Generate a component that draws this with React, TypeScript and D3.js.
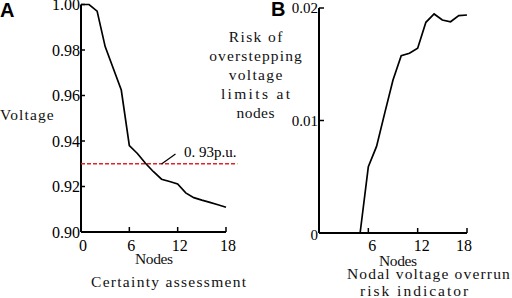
import React from "react";
import * as d3 from "d3";

const nodesA = [0, 1, 2, 3, 4, 5, 6, 7, 8, 9, 10, 11, 12, 13, 14, 15, 16, 17, 18];
const voltage = [1.0, 1.0, 0.9971, 0.9815, 0.972, 0.9624, 0.938, 0.9345, 0.9302, 0.9265, 0.9232, 0.9222, 0.9211, 0.9172, 0.9151, 0.914, 0.913, 0.912, 0.9109];
const nodesB = [5, 6, 7, 8, 9, 10, 11, 12, 13, 14, 15, 16, 17, 18];
const risk = [0, 0.0059, 0.0077, 0.01068, 0.0136, 0.01576, 0.01597, 0.01642, 0.01873, 0.01947, 0.01893, 0.01878, 0.01932, 0.01938];
const yTicksA = [0.9, 0.92, 0.94, 0.96, 0.98, 1.0];
const xTicksA = [0, 6, 12, 18];
const yTicksB = [0.01, 0.02];
const xTicksB = [6, 12, 18];
const threshold = 0.93;
const riskLabel = ["Risk of", "overstepping", "voltage", "limits at", "nodes"];

const SERIF = "'Liberation Serif', 'Times New Roman', serif";
const CW = 7.8;

function Mono({ x, y, text, anchor = "start" }: { x: number; y: number; text: string; anchor?: string }) {
  return (
    <text x={x} y={y} fontFamily={SERIF} fontSize={15.5} textAnchor={anchor} textLength={text.length * CW - 1} lengthAdjust="spacing" fill="#111">
      {text}
    </text>
  );
}

export default function App() {
  const xA = d3.scaleLinear().domain([0, 18]).range([81, 226]);
  const yA = d3.scaleLinear().domain([0.9, 1.0]).range([232, 4.5]);
  const xB = d3.scaleLinear().domain([0, 18]).range([319, 467]);
  const yB = d3.scaleLinear().domain([0, 0.02]).range([233, 8]);

  const lineA = d3.line<number>().x((_, i) => xA(nodesA[i])).y((d) => yA(d))(voltage) || "";
  const lineB = d3.line<number>().x((_, i) => xB(nodesB[i])).y((d) => yB(d))(risk) || "";

  return (
    <svg width={512} height={298} style={{ position: "absolute", left: 0, top: 0, background: "#fff" }}>
      {/* Panel A */}
      <text x={0} y={17} fontFamily="'Liberation Sans', Arial, sans-serif" fontWeight="bold" fontSize={20}>A</text>
      <line x1={xA(0)} x2={xA(0)} y1={yA(1.0)} y2={yA(0.9)} stroke="#000" strokeWidth={2} />
      <line x1={xA(0)} x2={xA(18)} y1={yA(0.9)} y2={yA(0.9)} stroke="#000" strokeWidth={2} />
      {yTicksA.map((t) => (
        <g key={"ya" + t}>
          <line x1={xA(0)} x2={xA(0) + 4} y1={yA(t)} y2={yA(t)} stroke="#000" strokeWidth={1.5} />
          <text x={xA(0) - 1} y={yA(t)} dy="0.35em" textAnchor="end" fontFamily={SERIF} fontSize={16}>{t.toFixed(2)}</text>
        </g>
      ))}
      {xTicksA.map((t) => (
        <g key={"xa" + t}>
          <line x1={xA(t)} x2={xA(t)} y1={yA(0.9)} y2={yA(0.9) - 5} stroke="#000" strokeWidth={1.5} />
          <text x={xA(t) + 2} y={251} textAnchor="middle" fontFamily={SERIF} fontSize={16}>{t}</text>
        </g>
      ))}
      <line x1={xA(0)} x2={xA(19.4)} y1={yA(threshold)} y2={yA(threshold)} stroke="#e3212b" strokeWidth={1.6} strokeDasharray="4 2" />
      <path d={lineA} fill="none" stroke="#000" strokeWidth={1.7} />
      <line x1={161.5} y1={164} x2={175.5} y2={154} stroke="#000" strokeWidth={1.2} />
      <text x={184} y={157} fontFamily={SERIF} fontSize={15}>0. 93p.u.</text>
      <Mono x={0} y={120} text="Voltage" />
      <Mono x={135} y={264} text="Nodes" />
      <Mono x={91} y={287} text="Certainty assessment" />

      {/* Risk label */}
      {riskLabel.map((s, i) => (
        <Mono key={s} x={255.5} y={42 + i * 19} text={s} anchor="middle" />
      ))}

      {/* Panel B */}
      <text x={271} y={16} fontFamily="'Liberation Sans', Arial, sans-serif" fontWeight="bold" fontSize={20}>B</text>
      <line x1={xB(0)} x2={xB(0)} y1={yB(0.02)} y2={yB(0)} stroke="#000" strokeWidth={2} />
      <line x1={xB(0)} x2={xB(18)} y1={yB(0)} y2={yB(0)} stroke="#000" strokeWidth={2} />
      {yTicksB.map((t) => (
        <g key={"yb" + t}>
          <line x1={xB(0)} x2={xB(0) + 5} y1={yB(t)} y2={yB(t)} stroke="#000" strokeWidth={1.5} />
          <text x={xB(0) - 1} y={yB(t)} dy="0.35em" textAnchor="end" fontFamily={SERIF} fontSize={15}>{t.toFixed(2)}</text>
        </g>
      ))}
      <text x={xB(0) - 1} y={235} dy="0.35em" textAnchor="end" fontFamily={SERIF} fontSize={15}>0</text>
      {xTicksB.map((t) => (
        <g key={"xb" + t}>
          <line x1={xB(t)} x2={xB(t)} y1={yB(0)} y2={yB(0) - 5} stroke="#000" strokeWidth={1.5} />
          <text x={xB(t) + (t === 18 ? -3 : 4)} y={251} textAnchor="middle" fontFamily={SERIF} fontSize={16}>{t}</text>
        </g>
      ))}
      <path d={lineB} fill="none" stroke="#000" strokeWidth={1.7} />
      <Mono x={379} y={266} text="Nodes" />
      <Mono x={347} y={279} text="Nodal voltage overrun" />
      <Mono x={360} y={296} text="risk indicator" />
    </svg>
  );
}
